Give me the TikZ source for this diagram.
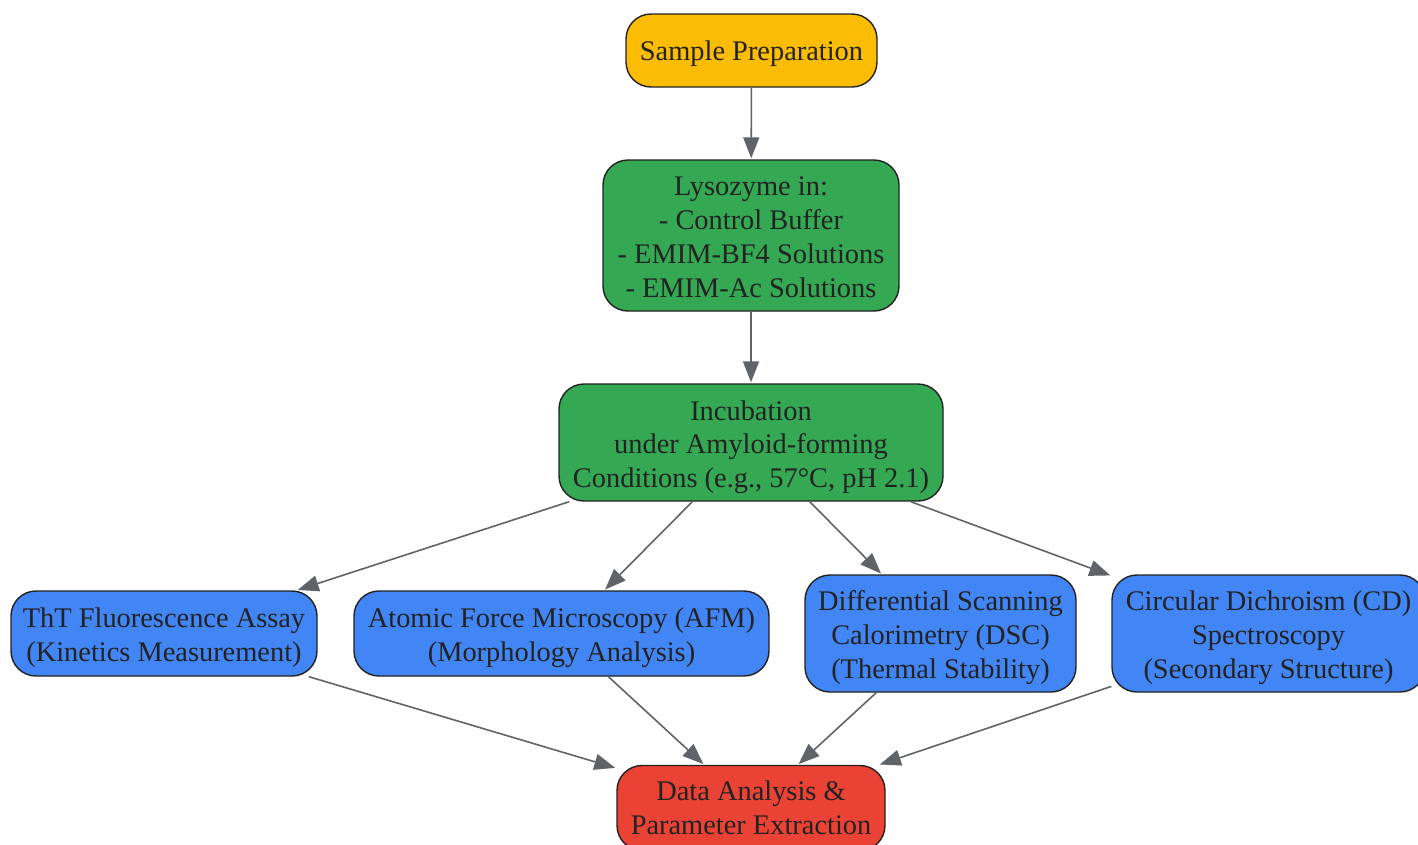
\documentclass[tikz,border=0pt]{standalone}
\usepackage{fontspec}
\setmainfont{Liberation Serif}
\usetikzlibrary{arrows.meta}
\definecolor{prepfill}{HTML}{FBBC04}
\definecolor{stepfill}{HTML}{34A853}
\definecolor{assayfill}{HTML}{4285F4}
\definecolor{datafill}{HTML}{EA4335}
\definecolor{boxline}{HTML}{222222}
\definecolor{boxtext}{HTML}{222222}
\definecolor{flowgray}{HTML}{606368}
\newcommand{\liftline}[1][28pt]{\rule{0pt}{#1}}
\tikzset{
  box/.style     = {draw=boxline, line width=1.4pt, rounded corners=25pt, align=center,
                    text=boxtext, inner sep=0pt, font=\fontsize{28.4}{33.8}\selectfont},
  prepbox/.style = {box, fill=prepfill},
  stepbox/.style = {box, fill=stepfill},
  assay/.style   = {box, fill=assayfill},
  databox/.style = {box, fill=datafill},
  flow/.style    = {draw=flowgray, line width=1.6pt, -{Triangle[length=21pt, width=16pt]}, shorten >=1pt},
}

\begin{document}
\begin{tikzpicture}[x=1pt, y=-1pt]
\useasboundingbox (0,0) rectangle (1418,844);
% top of the chain
\node[prepbox, minimum width=251pt, minimum height=73pt] (prep) at (751.5,50.5) {\liftline[26pt]Sample Preparation};
\node[stepbox, minimum width=296pt, minimum height=151pt] (lyso) at (751,235.5)
  {\liftline[22pt]Lysozyme in:\\- Control Buffer\\- EMIM-BF4 Solutions\\- EMIM-Ac Solutions};
\node[stepbox, minimum width=384pt, minimum height=117pt] (incub) at (751,442.5)
  {\liftline[29pt]Incubation\\under Amyloid-forming\\Conditions (e.g., 57°C, pH 2.1)};

% the four measurements
\node[assay, minimum width=306pt, minimum height=85pt] (tht) at (164,633.5)
  {\liftline ThT Fluorescence Assay\\(Kinetics Measurement)};
\node[assay, minimum width=415pt, minimum height=85pt] (afm) at (561.5,633.5)
  {\liftline Atomic Force Microscopy (AFM)\\(Morphology Analysis)};
\node[assay, minimum width=271pt, minimum height=117pt] (dsc) at (940.5,633.5)
  {\liftline Differential Scanning\\Calorimetry (DSC)\\(Thermal Stability)};
\node[assay, minimum width=313pt, minimum height=117pt] (cd) at (1268.5,633.5)
  {\liftline Circular Dichroism (CD)\\Spectroscopy\\(Secondary Structure)};

\node[databox, minimum width=268pt, minimum height=85pt] (data) at (751,808)
  {Data Analysis \&\\Parameter Extraction};

\draw[flow] (prep) -- (lyso);
\draw[flow] (lyso) -- (incub);
\draw[flow] (incub) -- (tht);
\draw[flow] (incub) -- (afm);
\draw[flow] (incub) -- (dsc);
\draw[flow] (incub) -- (cd);
\draw[flow] (tht) -- (data);
\draw[flow] (afm) -- (data);
\draw[flow] (dsc) -- (data);
\draw[flow] (cd) -- (data);
\end{tikzpicture}
\end{document}
